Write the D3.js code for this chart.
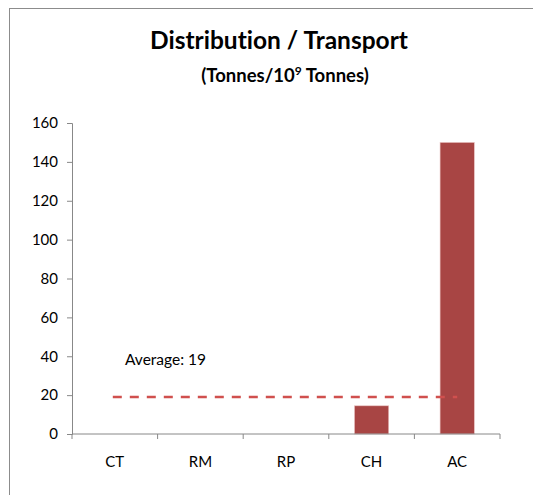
<!DOCTYPE html>
<html>
<head>
<meta charset="utf-8">
<script src="https://cdn.jsdelivr.net/npm/d3@7"></script>
<style>
  body { margin: 0; background: #fff; }
  svg { font-family: Lato, "Open Sans", sans-serif; font-variant-ligatures: none; }
</style>
</head>
<body>
<svg id="chart" width="533" height="495"></svg>
<script>
// chart data
const categories = ["CT", "RM", "RP", "CH", "AC"]
const values     = [0, 0, 0, 14.5, 150]
const average    = 19
const yTicks     = [0, 20, 40, 60, 80, 100, 120, 140, 160]

const svg = d3.select("#chart")

// outer frame (runs off the right and bottom edges)
svg.append("rect")
    .attr("x", 9.5).attr("y", 8.5)
    .attr("width", 540).attr("height", 500)
    .attr("fill", "#fff")
    .attr("stroke", "#8c8c8c")

// titles
svg.append("text")
    .attr("x", 279).attr("y", 49)
    .attr("text-anchor", "middle")
    .attr("font-size", 24.5).attr("font-weight", "bold")
    .text("Distribution / Transport")

let sub = svg.append("text")
    .attr("x", 285).attr("y", 82)
    .attr("text-anchor", "middle")
    .attr("font-size", 18.5).attr("font-weight", "bold")
sub.append("tspan").text("(Tonnes/10")
sub.append("tspan").attr("font-size", 12).attr("dy", -7).text("9")
sub.append("tspan").attr("dy", 7).text(" Tonnes)")

// plot area
const plotL = 72, plotR = 500, plotT = 123, plotB = 434

const xScale = d3.scaleBand().domain(categories).range([plotL, plotR])
const yScale = d3.scaleLinear().domain([0, 160]).range([plotB, plotT])

// y axis
let yAxis = svg.append("g")
    .attr("transform", `translate(${plotL},0)`)
    .call(d3.axisLeft(yScale).tickValues(yTicks).tickSize(5).tickPadding(9))
yAxis.select(".domain").attr("stroke", "#888")
yAxis.selectAll(".tick line").attr("stroke", "#888")
yAxis.selectAll(".tick text").attr("font-size", 15).attr("fill", "#000")
    .attr("font-family", "Lato, 'Open Sans', sans-serif")

// bars
svg.append("g").selectAll("rect")
    .data(categories.map((c, i) => ({cat: c, v: values[i]})))
    .join("rect")
    .attr("x", d => xScale(d.cat) + xScale.bandwidth() * 0.3)
    .attr("width", xScale.bandwidth() * 0.4)
    .attr("y", d => yScale(d.v))
    .attr("height", d => plotB - yScale(d.v))
    .attr("fill", "#a84544")
    .attr("stroke", "#e9c2c1").attr("stroke-width", 0.6)

// x axis with ticks between categories
let xAxis = svg.append("g").attr("transform", `translate(0,${plotB})`)
xAxis.append("line")
    .attr("x1", plotL).attr("x2", plotR)
    .attr("stroke", "#888")
const edges = categories.map(c => xScale(c)).concat([plotR])
xAxis.selectAll(".tk").data(edges).join("line")
    .attr("x1", d => d).attr("x2", d => d)
    .attr("y1", 0).attr("y2", 5)
    .attr("stroke", "#888")
xAxis.selectAll(".lbl").data(categories).join("text")
    .attr("x", d => xScale(d) + xScale.bandwidth() / 2)
    .attr("y", 33)
    .attr("text-anchor", "middle")
    .attr("font-size", 15)
    .text(d => d)

// average line
svg.append("line")
    .attr("x1", xScale("CT") + xScale.bandwidth() / 2 - 2)
    .attr("x2", xScale("AC") + xScale.bandwidth() / 2)
    .attr("y1", yScale(average)).attr("y2", yScale(average))
    .attr("stroke", "#d0504e")
    .attr("stroke-width", 2.5)
    .attr("stroke-dasharray", "9,8")

svg.append("text")
    .attr("x", 125).attr("y", 365)
    .attr("font-size", 15.5)
    .text("Average: " + average)
</script>
</body>
</html>
